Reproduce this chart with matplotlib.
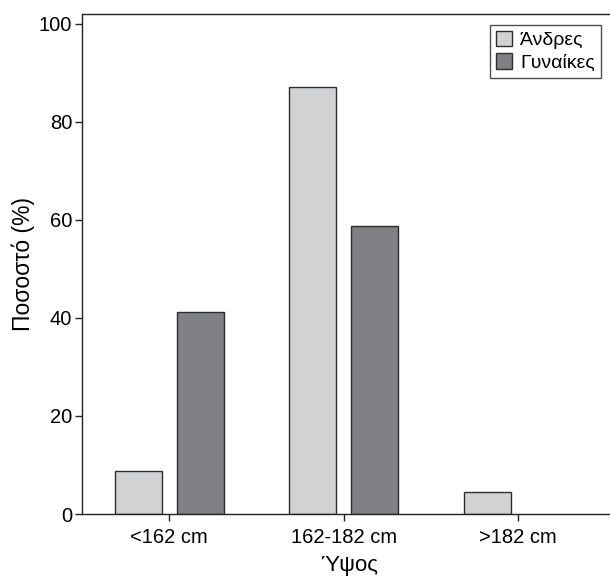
import matplotlib
matplotlib.use("Agg")
import matplotlib.pyplot as plt
import numpy as np
from matplotlib.patches import Patch

categories = ["<162 cm", "162-182 cm", ">182 cm"]
men = [8.8, 87.1, 4.4]
women = [41.2, 58.8, 0.0]
series_names = ["Άνδρες", "Γυναίκες"]

plt.rcParams['font.family'] = ['Liberation Sans', 'DejaVu Sans']

fig = plt.figure(figsize=(6.10, 5.78), dpi=100)
ax = fig.add_axes([82/610, 64/578, 1 - 82/610 + 0.01, (514-14)/578])

x = np.arange(len(categories))
w = 0.27
off = 0.178
light = "#d1d2d4"
dark = "#808184"
edge = "#2e2e2e"
b1 = ax.bar(x - off, men, w, color=light, edgecolor=edge, linewidth=1.0)
b2 = ax.bar(x + off, women, w, color=dark, edgecolor=edge, linewidth=1.0)
for bars in (b1, b2):
    for r in bars:
        if r.get_height() == 0:
            r.set_linewidth(0)

ax.set_xlim(-0.5, 2.56)
ax.set_ylim(0, 102)
ax.set_xticks(x)
ax.set_xticklabels(categories, fontsize=14.5)
ax.set_yticks([0, 20, 40, 60, 80, 100])
ax.tick_params(axis='y', labelsize=14.5, direction='out', length=5, width=1, color='#222222', pad=2)
ax.tick_params(axis='x', direction='out', length=5, width=1, color='#222222', pad=5)
ax.spines['right'].set_visible(False)
for s in ['left', 'bottom', 'top']:
    ax.spines[s].set_linewidth(1.0)
    ax.spines[s].set_color('#222222')

ax.set_ylabel("Ποσοστό (%)", fontsize=16.5, labelpad=3)
ax.set_xlabel("Ύψος", fontsize=16, labelpad=5.5)

handles = [Patch(facecolor=light, edgecolor=edge, label=series_names[0]),
           Patch(facecolor=dark, edgecolor=edge, label=series_names[1])]
leg = ax.legend(handles=handles, loc='upper left', fontsize=14,
                frameon=True, fancybox=False, handlelength=0.85, handleheight=0.85,
                handletextpad=0.4, borderpad=0.3, labelspacing=0.2, borderaxespad=0)
leg.set_bbox_to_anchor((490/610, 1 - 25/578), transform=fig.transFigure)
leg.get_frame().set_edgecolor('#222222')
leg.get_frame().set_linewidth(1.0)

fig.savefig("out.png", dpi=100)
